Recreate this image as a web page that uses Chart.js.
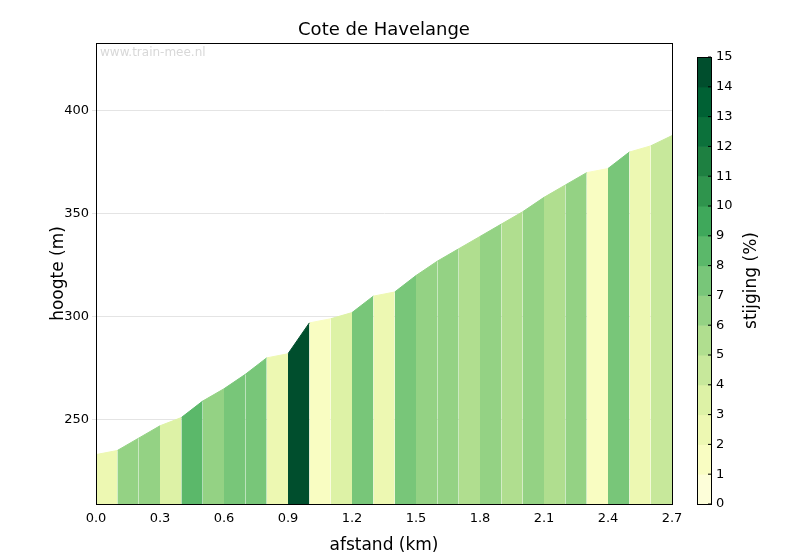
<!DOCTYPE html>
<html><head><meta charset="utf-8">
<script src="https://cdn.jsdelivr.net/npm/chart.js@4/dist/chart.umd.min.js"></script>
<style>body{margin:0;background:#fff}#w{width:800px;height:560px}</style>
</head><body><div id="w"><canvas id="c"></canvas></div>
<script>
const distances=[0.0,0.1,0.2,0.3,0.4,0.5,0.6,0.7,0.8,0.9,1.0,1.1,1.2,1.3,1.4,1.5,1.6,1.7,1.8,1.9,2.0,2.1,2.2,2.3,2.4,2.5,2.6,2.7];
const elevations=[233,235,241,247,251,259,265,272,280,282,297,299,302,310,312,320,327,333,339,345,351,358,364,370,372,380,383,388];
const xTicks=[0.0,0.3,0.6,0.9,1.2,1.5,1.8,2.1,2.4,2.7];
const cbTicks=[0,1,2,3,4,5,6,7,8,9,10,11,12,13,14,15];
const stops=['#ffffe5','#f7fcb9','#d9f0a3','#addd8e','#78c679','#41ab5d','#238443','#006837','#004529'];
function hex(h){return [1,3,5].map(i=>parseInt(h.substr(i,2),16));}
function cmap(v){let t=Math.max(0,Math.min(1,v/15))*(stops.length-1);let i=Math.min(Math.floor(t),stops.length-2),f=t-i;
 const a=hex(stops[i]),b=hex(stops[i+1]);return 'rgb('+a.map((x,k)=>Math.round(x+(b[k]-x)*f)).join(',')+')';}
function band(g){return cmap(Math.min(14,Math.floor(g))+0.5);}
const datasets=[];
for(let i=0;i<distances.length-1;i++){
 const g=(elevations[i+1]-elevations[i])/((distances[i+1]-distances[i])*1000)*100;
 const col=band(g);
 datasets.push({data:[{x:distances[i],y:elevations[i]},{x:distances[i+1],y:elevations[i+1]}],
  fill:'start',backgroundColor:col,borderColor:col,borderWidth:1,pointRadius:0,tension:0});
}
const deco={id:'deco',
 beforeDatasetsDraw(ch){const c=ch.ctx,a=ch.chartArea;c.save();c.fillStyle='#d8d8d8';c.font='12px "DejaVu Sans"';c.textBaseline='top';c.fillText('www.train-mee.nl',a.left+4,a.top+4);c.restore();},
 afterDraw(ch){const c=ch.ctx,a=ch.chartArea;c.save();
  c.strokeStyle='#000';c.lineWidth=1;c.strokeRect(a.left+0.5,a.top+0.5,a.right-a.left,a.bottom-a.top);
  c.fillStyle='#000';c.font='18px "DejaVu Sans"';c.textAlign='center';c.textBaseline='alphabetic';
  c.fillText('Cote de Havelange',(a.left+a.right)/2,a.top-8);
  const x0=697,w=14,top=57,bot=a.bottom,h=(bot-top)/15;
  for(let v=0;v<15;v++){c.fillStyle=cmap(v+0.5);c.fillRect(x0,bot-(v+1)*h,w,h+0.5);}
  c.strokeStyle='#000';c.strokeRect(x0+0.5,top+0.5,w,bot-top);
  c.fillStyle='#000';c.font='13px "DejaVu Sans"';c.textBaseline='middle';c.textAlign='left';
  cbTicks.forEach(v=>{const y=bot-v*h;c.beginPath();c.moveTo(x0+w-3,y);c.lineTo(x0+w,y);c.stroke();c.fillText(String(v),x0+w+5,y);});
  c.translate(752,(top+bot)/2);c.rotate(-Math.PI/2);c.textAlign='center';c.font='17px "DejaVu Sans"';c.fillText('stijging (%)',0,0);
  c.restore();}};
new Chart(document.getElementById('c'),{type:'line',data:{datasets},
 options:{responsive:true,maintainAspectRatio:false,animation:false,
  layout:{padding:{right:128,left:44,top:43,bottom:0}},
  plugins:{legend:{display:false},tooltip:{enabled:false},title:{display:false}},
  scales:{
   x:{type:'linear',min:0,max:2.7,afterBuildTicks(s){s.ticks=xTicks.map(v=>({value:v}));},
    ticks:{color:'#000',font:{family:'DejaVu Sans',size:13},maxRotation:0,callback:v=>v.toFixed(1)},
    grid:{display:false,drawTicks:true,tickLength:4},border:{color:'#000'},
    title:{display:true,text:'afstand (km)',color:'#000',font:{family:'DejaVu Sans',size:17},padding:{top:2}},
    afterFit(s){s.height=56;}},
   y:{min:209,max:433,afterBuildTicks(s){s.ticks=[250,300,350,400].map(v=>({value:v}));},
    ticks:{color:'#000',font:{family:'DejaVu Sans',size:13}},
    grid:{color:'#e4e4e4',tickLength:4},border:{color:'#000'},
    title:{display:true,text:'hoogte (m)',color:'#000',font:{family:'DejaVu Sans',size:17}},
    afterFit(s){s.width=52;}}}},
 plugins:[deco]});
</script></body></html>
